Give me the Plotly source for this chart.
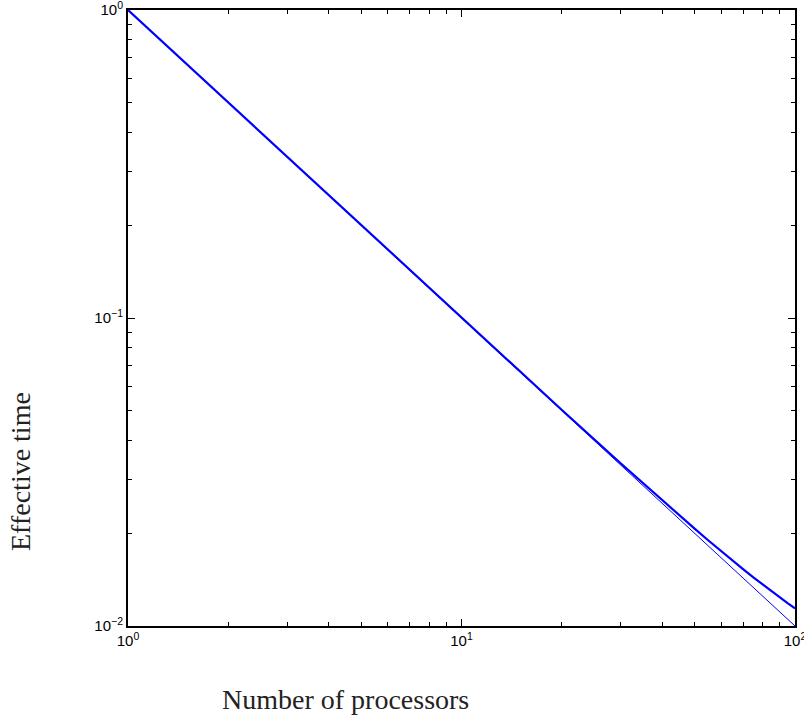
import plotly.graph_objects as go

# Number of processors
processors = [1, 2, 3, 5, 7, 10, 15, 20, 30, 40, 45, 50, 55, 60, 65, 70, 75, 80, 85, 90, 95, 100]
# Ideal time (thin line)
ideal_time = [1.0, 0.5, 0.3333, 0.2, 0.1429, 0.1, 0.06667, 0.05, 0.03333, 0.025, 0.02222,
              0.02, 0.01818, 0.01667, 0.01538, 0.01429, 0.01333, 0.0125, 0.01176, 0.01111,
              0.01053, 0.01]
# Effective time (thick line)
effective_time = [1.0, 0.5, 0.3334, 0.2001, 0.1430, 0.1001, 0.06688, 0.05028, 0.03375, 0.02556,
                  0.02285, 0.0207, 0.01895, 0.0175, 0.01629, 0.01527, 0.01438, 0.01362,
                  0.01295, 0.01237, 0.01186, 0.0114]

x_ticks = [1, 10, 100]
x_tick_text = ["10<sup>0</sup>", "10<sup>1</sup>", "10<sup>2</sup>"]
x_minor = [2, 3, 4, 5, 6, 7, 8, 9, 20, 30, 40, 50, 60, 70, 80, 90]
y_ticks = [0.01, 0.1, 1]
y_tick_text = ["10<sup>−2</sup>", "10<sup>−1</sup>", "10<sup>0</sup>"]
y_minor = [0.02, 0.03, 0.04, 0.05, 0.06, 0.07, 0.08, 0.09,
           0.2, 0.3, 0.4, 0.5, 0.6, 0.7, 0.8, 0.9]

W, H = 804, 718
L, T = 128, 10
R = W - 795
B = H - 626

fig = go.Figure()
fig.add_trace(go.Scatter(x=processors, y=ideal_time, mode="lines",
                         line=dict(color="#0000ff", width=1), showlegend=False))
fig.add_trace(go.Scatter(x=processors, y=effective_time, mode="lines",
                         line=dict(color="#0000ff", width=2.2), showlegend=False))

axis_common = dict(
    type="log", showgrid=False, zeroline=False, automargin=False,
    showline=True, linecolor="black", linewidth=2, mirror="allticks",
    ticks="inside", ticklen=7, tickwidth=1, tickcolor="black",
    ticklabeloverflow="allow",
    tickfont=dict(family="Liberation Sans, Arial, sans-serif", size=15, color="black"),
)

fig.update_xaxes(range=[0, 2], tickmode="array", tickvals=x_ticks, ticktext=x_tick_text,
                 minor=dict(ticks="inside", ticklen=4, tickwidth=1, tickcolor="black",
                            showgrid=False, tickmode="array", tickvals=x_minor),
                 **axis_common)
fig.update_yaxes(range=[-2, 0], tickmode="array", tickvals=y_ticks, ticktext=y_tick_text,
                 minor=dict(ticks="inside", ticklen=4, tickwidth=1, tickcolor="black",
                            showgrid=False, tickmode="array", tickvals=y_minor),
                 **axis_common)

pw = W - L - R
ph = H - T - B


def px_to_paper(px, py):
    return (px - L) / pw, 1 - (py - T) / ph


xl = px_to_paper(345, 699)
yl = px_to_paper(20, 472)

fig.update_layout(
    width=W, height=H,
    margin=dict(l=L, r=R, t=T, b=B, autoexpand=False),
    plot_bgcolor="white", paper_bgcolor="white",
    annotations=[
        dict(text="Number of processors", x=xl[0], y=xl[1], xref="paper", yref="paper",
             xanchor="center", yanchor="middle", showarrow=False,
             font=dict(family="Liberation Serif, serif", size=28, color="#222")),
        dict(text="Effective time", x=yl[0], y=yl[1], xref="paper", yref="paper",
             xanchor="center", yanchor="middle", textangle=-90, showarrow=False,
             font=dict(family="Liberation Serif, serif", size=28, color="#222")),
    ],
)

fig.write_html("out.html", config={"displayModeBar": False},
               post_script="document.body.style.margin='0';document.body.style.padding='0';")
